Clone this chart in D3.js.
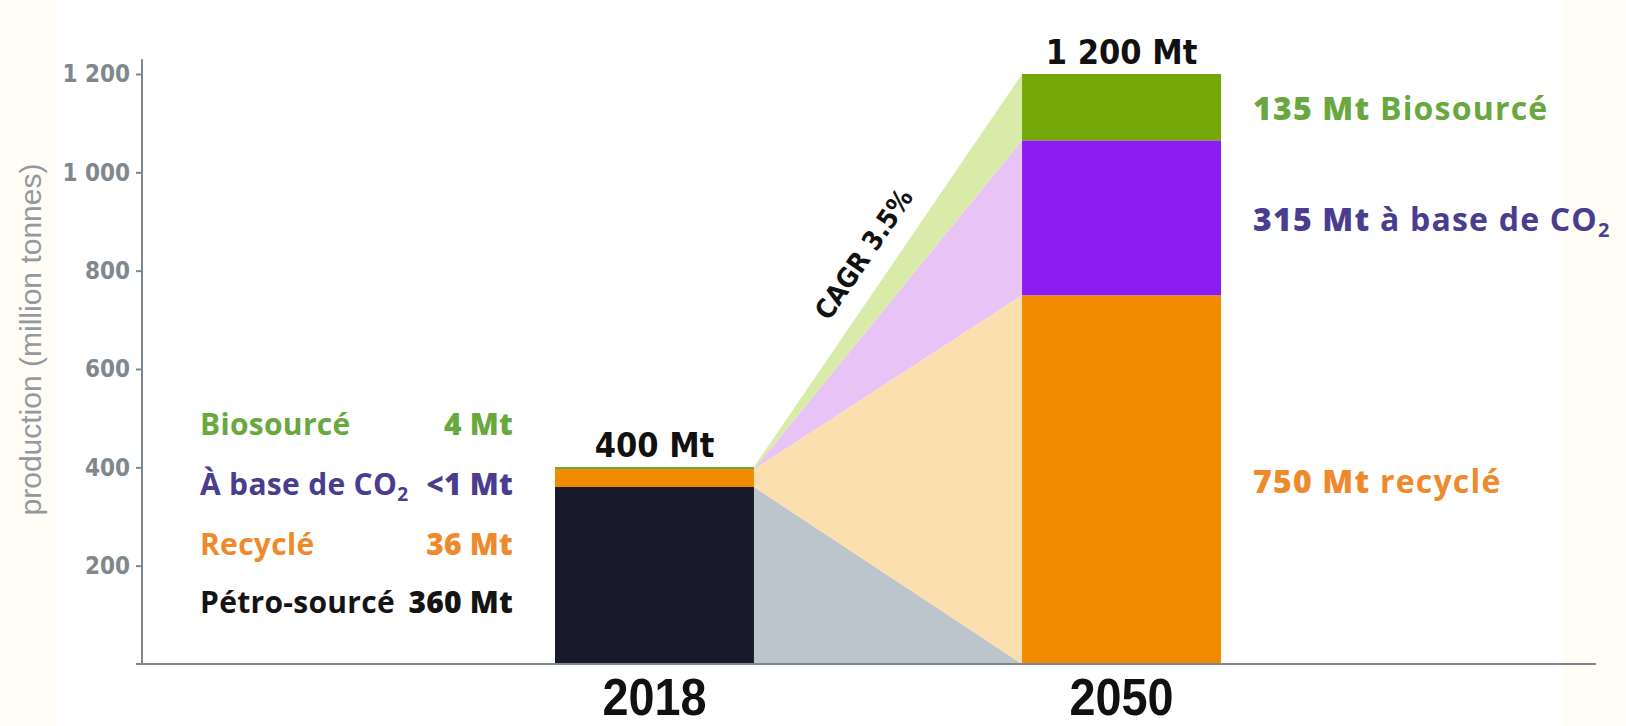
<!DOCTYPE html>
<html>
<head>
<meta charset="utf-8">
<script src="https://cdn.jsdelivr.net/npm/d3@7"></script>
<style>
  body { margin: 0; background: #fffdf6; }
  svg { display: block; }
  .cond { font-family: "DejaVu Sans Condensed", "DejaVu Sans", sans-serif; font-stretch: condensed; font-weight: bold; }
  .narrow { font-family: "Liberation Sans Narrow", "Liberation Sans", sans-serif; font-weight: bold; }
  .mont { font-family: "Open Sans", sans-serif; }
</style>
</head>
<body>
<svg id="chart" width="1626" height="726"></svg>
<script>
// values (Mt)
var years = ["2018", "2050"];
var keys = ["petro", "recycle", "co2", "bio"];
var petro = [360, 0];
var recycle = [36, 750];
var co2 = [0.5, 315];
var bio = [4, 135];
var totals = ["400 Mt", "1 200 Mt"];
var yTicks = [200, 400, 600, 800, 1000, 1200];

var barColors = ["#18192b", "#f28b00", "#8b1df2", "#74a806"];
var flowColors = ["#bcc5cc", "#fbdfae", "#e8c4f6", "#d8eba9"];
var textColors = ["#141414", "#ee8a2c", "#4a3d8f", "#69a83e"];

var leftNames = ["Pétro-sourcé", "Recyclé", "À base de CO", "Biosourcé"];
var leftValues = ["360 Mt", "36 Mt", "<1 Mt", "4 Mt"];
var rightValues = ["", "750 Mt", "315 Mt", "135 Mt"];
var rightNames = ["", " recyclé", " à base de CO", " Biosourcé"];

var svg = d3.select("#chart");

// white plotting field, cream edges
svg.append("rect").attr("x", 55).attr("y", 0).attr("width", 1508).attr("height", 726).attr("fill", "#ffffff");

var y = d3.scaleLinear().domain([0, 1200]).range([664, 74]);
var x = d3.scaleBand().domain(years).range([555, 1221]).paddingInner(0.574);

var rows = years.map(function (yr, i) {
    return { year: yr, petro: petro[i], recycle: recycle[i], co2: co2[i], bio: bio[i] };
});
var stacked = d3.stack().keys(keys)(rows);

// flows between the two bars
var flow = d3.area()
    .x(function (d) { return d.x; })
    .y0(function (d) { return y(d.lo); })
    .y1(function (d) { return y(d.hi); });

stacked.forEach(function (s, k) {
    var pts = [
        { x: x("2018") + x.bandwidth(), lo: s[0][0], hi: s[0][1] },
        { x: x("2050"), lo: s[1][0], hi: s[1][1] }
    ];
    svg.append("path").attr("d", flow(pts)).attr("fill", flowColors[k]);
});

// stacked bars
var g = svg.append("g");
stacked.forEach(function (s, k) {
    g.selectAll(".seg-" + k)
        .data(s)
        .enter().append("rect")
        .attr("x", function (d) { return x(d.data.year); })
        .attr("y", function (d) { return y(d[1]); })
        .attr("width", x.bandwidth())
        .attr("height", function (d) { return Math.max(0, y(d[0]) - y(d[1])); })
        .attr("fill", barColors[k]);
});

// totals above bars
svg.selectAll(".total")
    .data(years)
    .enter().append("text")
    .attr("class", "cond")
    .attr("x", function (d) { return x(d) + x.bandwidth() / 2; })
    .attr("y", function (d, i) { return y(d3.sum(keys, function (k) { return rows[i][k]; })) - 10; })
    .attr("text-anchor", "middle")
    .attr("font-size", 34)
    .attr("fill", "#111")
    .text(function (d, i) { return totals[i]; });

// axes
var axisColor = "#7d878d";
var yAxis = d3.axisLeft(y)
    .tickValues(yTicks)
    .tickSize(6)
    .tickPadding(6)
    .tickFormat(function (d) { return d3.format(",")(d).replace(",", " "); });
var ya = svg.append("g").attr("transform", "translate(142,0)").call(yAxis);
ya.select(".domain").remove();
ya.selectAll(".tick line").attr("stroke", axisColor).attr("stroke-width", 2);
ya.selectAll(".tick text")
    .attr("class", "cond")
    .attr("font-size", 24)
    .attr("fill", "#80888d");
svg.append("line").attr("x1", 142).attr("x2", 142).attr("y1", y(1230)).attr("y2", y(0))
    .attr("stroke", axisColor).attr("stroke-width", 2);
svg.append("line").attr("x1", 136).attr("x2", 1596).attr("y1", y(0)).attr("y2", y(0))
    .attr("stroke", axisColor).attr("stroke-width", 2);

svg.append("text")
    .attr("transform", "translate(41," + y(660) + ") rotate(-90)")
    .attr("text-anchor", "middle")
    .attr("font-family", "Liberation Sans, sans-serif")
    .attr("font-size", 30)
    .attr("fill", "#939a9f")
    .attr("textLength", 352)
    .text("production (million tonnes)");

// year labels
svg.selectAll(".year")
    .data(years)
    .enter().append("text")
    .attr("class", "narrow")
    .attr("x", function (d) { return x(d) + x.bandwidth() / 2; })
    .attr("y", 715)
    .attr("text-anchor", "middle")
    .attr("font-size", 52)
    .attr("textLength", 104)
    .attr("lengthAdjust", "spacingAndGlyphs")
    .attr("fill", "#111")
    .text(function (d) { return d; });

// CAGR note along the upper edge of the top flow
var topSeries = stacked[stacked.length - 1];
var ex0 = x("2018") + x.bandwidth(), ey0 = y(topSeries[0][1]);
var ex1 = x("2050"), ey1 = y(topSeries[1][1]);
var ang = Math.atan2(ey1 - ey0, ex1 - ex0) * 180 / Math.PI;
var len = Math.hypot(ex1 - ex0, ey1 - ey0);
var nx = (ey1 - ey0) / len, ny = -(ex1 - ex0) / len; // normal pointing up-left
var mx = ex0 + (ex1 - ex0) * 0.5 + nx * 20, my = ey0 + (ey1 - ey0) * 0.5 + ny * 20;
svg.append("text")
    .attr("class", "cond")
    .attr("transform", "translate(" + mx + "," + my + ") rotate(" + ang + ")")
    .attr("text-anchor", "middle")
    .attr("font-size", 27)
    .attr("fill", "#111")
    .text("CAGR 3.5%");

// left legend (2018)
var legY = [613, 555, 495, 435];
keys.forEach(function (k, i) {
    var t = svg.append("text").attr("class", "mont")
        .attr("x", 200).attr("y", legY[i])
        .attr("font-size", 30).attr("font-weight", 700)
        .attr("letter-spacing", 0.3)
        .attr("fill", textColors[i])
        .text(leftNames[i]);
    if (k === "co2") {
        t.append("tspan").attr("font-size", 19).attr("dy", 6).text("2");
    }
    svg.append("text").attr("class", "mont")
        .attr("x", 513).attr("y", legY[i])
        .attr("text-anchor", "end")
        .attr("font-size", 30).attr("font-weight", 800)
        .attr("letter-spacing", 0.2)
        .attr("fill", textColors[i])
        .text(leftValues[i]);
});

// right labels (2050)
stacked.forEach(function (s, i) {
    if (!rightValues[i]) return;
    var t = svg.append("text").attr("class", "mont")
        .attr("x", 1253)
        .attr("y", y((s[1][0] + s[1][1]) / 2) + 13)
        .attr("font-size", 32)
        .attr("letter-spacing", 1.2)
        .attr("fill", textColors[i]);
    t.append("tspan").attr("font-weight", 800).text(rightValues[i]);
    t.append("tspan").attr("font-weight", 700).text(rightNames[i]);
    if (keys[i] === "co2") {
        t.append("tspan").attr("font-weight", 700).attr("font-size", 20).attr("dy", 6).text("2");
    }
});
</script>
</body>
</html>
